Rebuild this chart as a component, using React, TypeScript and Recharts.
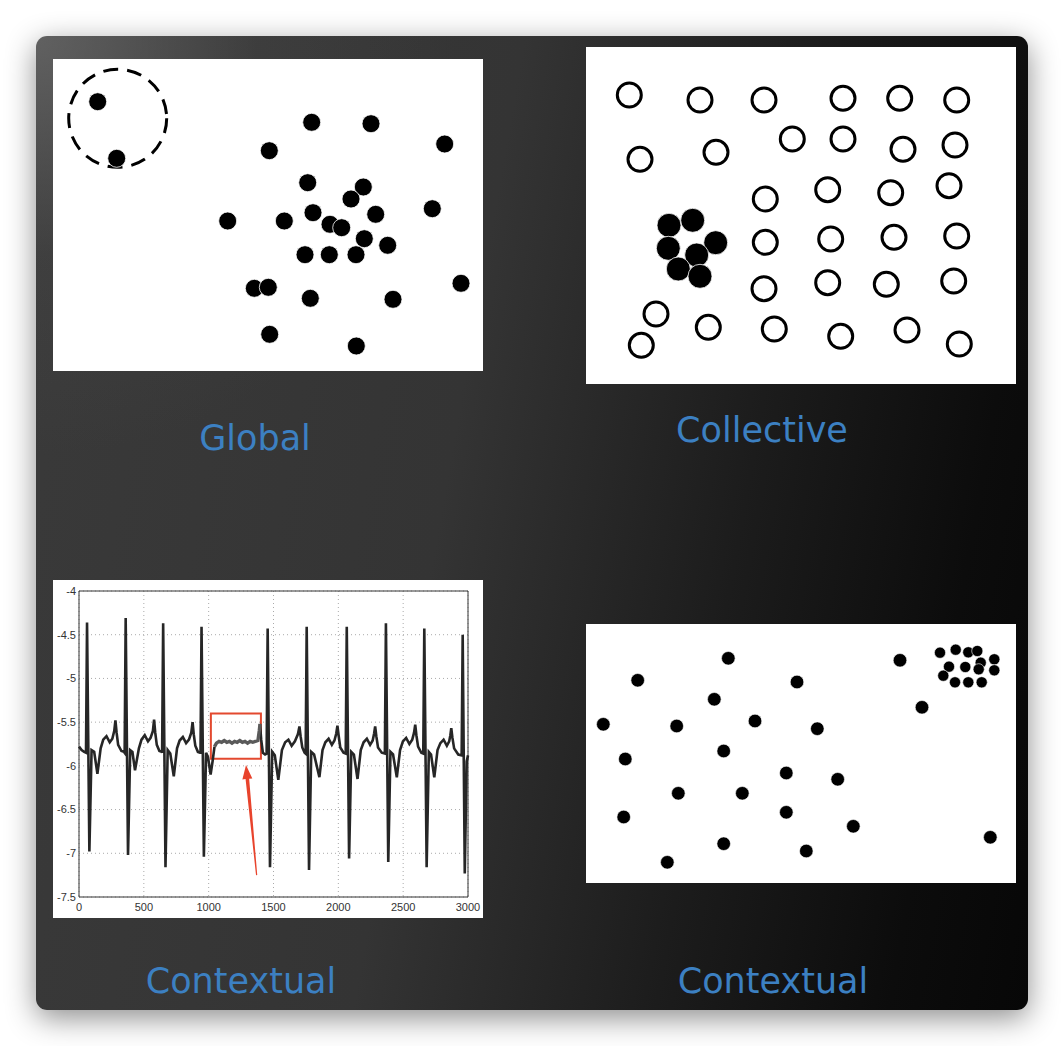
import React from "react";
import {
  ScatterChart,
  Scatter,
  LineChart,
  Line,
  XAxis,
  YAxis,
  CartesianGrid,
  ReferenceArea,
  ReferenceLine,
} from "recharts";

// ---------- Panel 1: Global outliers (panel units, y grows downward) ----------
const globalPoints = [
  [44.7, 42.7], [63.7, 99.3], [258.7, 63.3], [318, 64.7], [391.7, 85], [216.3, 91.7],
  [254.7, 123.7], [310.3, 128], [298, 140], [174.7, 162], [231.3, 162], [260, 153.7],
  [322.7, 155.3], [379.3, 149.7], [277, 165.3], [288.7, 168.7], [311.3, 179.7],
  [334.7, 186.3], [252, 195.7], [276.3, 195.7], [303, 195.7], [201.3, 229.3],
  [215.3, 228.3], [257.3, 239.3], [340, 240.3], [408, 224.3], [216.7, 275.3], [303.3, 287],
];
const globalRing = [[64.7, 59.3]];

// ---------- Panel 2: Collective ----------
const collectiveOpen = [
  [43.3, 48], [114, 53], [178, 53], [257, 51.3], [313.7, 51.3], [370.7, 53],
  [54, 112.3], [130, 105.3], [206.3, 92], [257, 92], [317, 102.3], [369, 98],
  [179.3, 152], [241.7, 142.7], [304.7, 145.7], [363, 138.7],
  [179.3, 195.3], [244.7, 192], [308, 190.3], [370.7, 189],
  [178, 241.7], [241.7, 235.7], [300.3, 237.3], [367.7, 234],
  [70, 267], [122.3, 280.3], [188.3, 282], [254.7, 289.3], [321, 283], [373.3, 297],
  [55.3, 298.3],
];
const collectiveFilled = [
  [83, 178.3], [106.7, 173.3], [82.3, 201.3], [129.7, 195.7], [110.7, 208], [92.3, 222], [114, 229.3],
];

// ---------- Panel 4: Contextual scatter ----------
const contextPoints = [
  [142.3, 34.3], [51.7, 56.3], [211, 58], [128.3, 75.3], [17.3, 100.3], [90.7, 102],
  [169, 97], [231.3, 104.7], [39.3, 135], [137.7, 127], [200.3, 149], [251.7, 155.3],
  [92.3, 169.3], [156.3, 169.3], [37.7, 193], [200.3, 188.3], [267.3, 202.3],
  [137.7, 219.7], [220.3, 227], [81.3, 238.3], [314, 36.3], [336, 83.3], [404.3, 213.3],
];
const contextCluster = [
  [354, 28.7], [369.7, 25.7], [382.3, 28.3], [391.3, 27], [408.3, 35.3], [408.3, 46.3],
  [363, 42.7], [379.3, 43], [394.7, 38.7], [392.7, 45.3], [357.3, 51.7], [369, 58.3],
  [382.3, 58.3], [395.7, 58.3],
];

// ---------- Panel 3: ECG signal ----------
const ecgNormal = [
  [0, -5.78], [20, -5.82], [40, -5.84],
  [54, -5.85], [62, -4.36], [80, -6.98], [97, -5.82], [117, -5.84], [142, -6.09], [167, -5.8],
  [187, -5.7], [212, -5.66], [237, -5.73], [257, -5.69], [272, -5.6], [281, -5.48], [290, -5.62],
  [302, -5.76], [327, -5.83], [347, -5.84],
  [352, -5.85], [360, -4.31], [378, -7.02], [395, -5.82], [412, -5.84], [432, -6.05], [462, -5.8],
  [482, -5.7], [507, -5.65], [532, -5.72], [552, -5.68], [570, -5.6], [579, -5.47], [588, -5.62],
  [600, -5.76], [620, -5.83], [638, -5.84],
  [641, -5.85], [649, -4.37], [667, -7.16], [684, -5.82], [704, -5.86], [731, -6.12], [756, -5.8],
  [776, -5.71], [801, -5.67], [826, -5.74], [848, -5.7], [866, -5.62], [876, -5.5], [885, -5.64],
  [897, -5.77], [917, -5.84], [935, -5.85],
  [937, -5.86], [945, -4.41], [963, -7.04], [980, -5.85], [995, -5.9], [1015, -6.1], [1030, -5.95],
  [1045, -5.78],
  [null, null],
  [1396, -5.52], [1405, -5.7], [1418, -5.85], [1435, -5.87], [1447, -5.86],
  [1455, -4.43], [1473, -7.16], [1490, -5.84], [1510, -5.88], [1537, -6.16], [1565, -5.82],
  [1590, -5.73], [1615, -5.7], [1640, -5.77], [1665, -5.72], [1688, -5.64], [1700, -5.55],
  [1709, -5.66], [1722, -5.79], [1740, -5.85], [1748, -5.86],
  [1756, -4.41], [1774, -7.19], [1791, -5.84], [1813, -5.87], [1854, -6.13], [1878, -5.82],
  [1900, -5.73], [1925, -5.69], [1950, -5.76], [1970, -5.71], [1984, -5.63], [1993, -5.54],
  [2002, -5.65], [2015, -5.79], [2040, -5.85], [2057, -5.86],
  [2065, -4.41], [2083, -7.06], [2100, -5.84], [2120, -5.87], [2148, -6.15], [2173, -5.82],
  [2195, -5.73], [2220, -5.69], [2245, -5.76], [2265, -5.71], [2276, -5.63], [2284, -5.55],
  [2293, -5.66], [2306, -5.79], [2335, -5.85], [2359, -5.86],
  [2367, -4.37], [2385, -7.1], [2402, -5.84], [2422, -5.87], [2451, -6.13], [2476, -5.82],
  [2498, -5.72], [2523, -5.68], [2548, -5.75], [2570, -5.7], [2584, -5.62], [2593, -5.53],
  [2602, -5.65], [2615, -5.78], [2640, -5.85], [2655, -5.86],
  [2663, -4.43], [2681, -7.16], [2698, -5.84], [2715, -5.87], [2740, -6.13], [2765, -5.82],
  [2787, -5.74], [2812, -5.7], [2837, -5.77], [2855, -5.72], [2864, -5.65], [2871, -5.57],
  [2880, -5.68], [2893, -5.8], [2925, -5.87], [2951, -5.88],
  [2959, -4.5], [2975, -7.23], [2990, -5.95], [3000, -5.88],
];
const ecgAnomaly = [
  [1045, -5.78], [1060, -5.74], [1080, -5.72], [1100, -5.73], [1120, -5.71], [1140, -5.73],
  [1160, -5.72], [1180, -5.74], [1200, -5.72], [1220, -5.73], [1240, -5.71], [1260, -5.73],
  [1280, -5.72], [1300, -5.74], [1320, -5.72], [1340, -5.73], [1360, -5.72], [1380, -5.71],
  [1390, -5.6], [1396, -5.52],
];
const ecgXTicks = [0, 500, 1000, 1500, 2000, 2500, 3000];
const ecgYTicks = [-7.5, -7, -6.5, -6, -5.5, -5, -4.5, -4];
const anomalyBox = { x1: 1017, x2: 1403, y1: -5.92, y2: -5.4 };
const arrowSegment = [{ x: 1370, y: -7.25 }, { x: 1288, y: -5.99 }];

const labels = ["Global", "Collective", "Contextual", "Contextual"];

const toXY = (arr) => arr.map(([x, y]) => ({ x, y }));

const circleShape = (r, fill, stroke, sw, dash) => (props) => {
  const { cx, cy } = props;
  if (cx == null || cy == null) return <g />;
  return (
    <circle cx={cx} cy={cy} r={r} fill={fill} stroke={stroke} strokeWidth={sw} strokeDasharray={dash} />
  );
};

function DotPanel({ w, h, series }) {
  return (
    <ScatterChart width={w} height={h} margin={{ top: 0, right: 0, bottom: 0, left: 0 }}>
      <XAxis type="number" dataKey="x" domain={[0, w]} hide />
      <YAxis type="number" dataKey="y" domain={[0, h]} reversed hide />
      {series.map((s, i) => (
        <Scatter key={i} data={toXY(s.data)} shape={s.shape} isAnimationActive={false} />
      ))}
    </ScatterChart>
  );
}

const Arrow = (props) => {
  const { x1, y1, x2, y2 } = props;
  if ([x1, y1, x2, y2].some((v) => v == null || isNaN(v))) return <g />;
  const dx = x2 - x1;
  const dy = y2 - y1;
  const len = Math.sqrt(dx * dx + dy * dy);
  const ux = dx / len;
  const uy = dy / len;
  const nx = -uy;
  const ny = ux;
  const headL = 14;
  const headW = 5;
  const bx = x2 - ux * headL;
  const by = y2 - uy * headL;
  const pts = [
    [x1 + nx * 0.6, y1 + ny * 0.6],
    [bx + nx * 1.8, by + ny * 1.8],
    [bx + nx * headW, by + ny * headW],
    [x2, y2],
    [bx - nx * headW, by - ny * headW],
    [bx - nx * 1.8, by - ny * 1.8],
    [x1 - nx * 0.6, y1 - ny * 0.6],
  ];
  return <polygon points={pts.map((p) => p.join(",")).join(" ")} fill="#e8432c" />;
};

function EcgPanel() {
  const tickStyle = { fontSize: 11, fill: "#333", fontFamily: "Liberation Sans, Arial, sans-serif" };
  return (
    <LineChart width={430} height={338} margin={{ top: 11, right: 15, bottom: 0, left: 0 }}>
      <CartesianGrid stroke="#aaa" strokeDasharray="1 3" />
      <XAxis
        type="number"
        dataKey="x"
        domain={[0, 3000]}
        ticks={ecgXTicks}
        height={21}
        tickLine={false}
        axisLine={false}
        tickSize={0}
        tickMargin={6}
        tick={tickStyle}
        interval={0}
      />
      <YAxis
        type="number"
        domain={[-7.5, -4]}
        ticks={ecgYTicks}
        width={26}
        tickLine={false}
        axisLine={false}
        tickSize={0}
        tickMargin={3}
        tick={tickStyle}
        interval={0}
      />
      <ReferenceArea x1={0} x2={3000} y1={-7.5} y2={-4} fill="none" stroke="#333" strokeWidth={1} />
      <Line
        data={toXY(ecgNormal)}
        dataKey="y"
        stroke="#262626"
        strokeWidth={2.6}
        dot={false}
        connectNulls={false}
        isAnimationActive={false}
      />
      <Line
        data={toXY(ecgAnomaly)}
        dataKey="y"
        stroke="#5a5a5a"
        strokeWidth={3.4}
        dot={false}
        isAnimationActive={false}
      />
      <ReferenceArea
        x1={anomalyBox.x1}
        x2={anomalyBox.x2}
        y1={anomalyBox.y1}
        y2={anomalyBox.y2}
        fill="none"
        stroke="#e3492f"
        strokeWidth={2}
      />
      <ReferenceLine segment={arrowSegment} shape={Arrow} />
    </LineChart>
  );
}

const labelStyle = (cx, cy) => ({
  position: "absolute",
  left: cx - 200,
  top: cy - 17,
  width: 400,
  height: 35,
  lineHeight: "35px",
  textAlign: "center",
  fontFamily: "DejaVu Sans, sans-serif",
  fontSize: 35,
  color: "#3c80c2",
});

export default function App() {
  return (
    <div
      style={{
        position: "absolute",
        left: 0,
        top: 0,
        width: 1064,
        height: 1046,
        background: "#ffffff",
        overflow: "hidden",
      }}
    >
      <div
        style={{
          position: "absolute",
          left: 36,
          top: 36,
          width: 992,
          height: 974,
          borderRadius: 11,
          background:
            "radial-gradient(circle at 0px 0px, rgba(110,110,110,0.75) 0px, rgba(80,80,80,0.25) 220px, rgba(60,60,60,0) 420px), linear-gradient(100deg, #3a3a3a 0%, #343434 42%, #1c1c1c 68%, #0c0c0c 88%, #070707 100%)",
          boxShadow: "0 8px 30px rgba(0,0,0,0.45)",
        }}
      />
      <div style={{ position: "absolute", left: 53, top: 59, width: 430, height: 312, background: "#fff" }}>
        <DotPanel
          w={430}
          h={312}
          series={[
            { data: globalRing, shape: circleShape(49, "none", "#000", 3, "15 9") },
            { data: globalPoints, shape: circleShape(9, "#000", "#fff", 0.8) },
          ]}
        />
      </div>
      <div style={{ position: "absolute", left: 586, top: 47, width: 430, height: 337, background: "#fff" }}>
        <DotPanel
          w={430}
          h={337}
          series={[
            { data: collectiveOpen, shape: circleShape(12, "#fff", "#000", 3) },
            { data: collectiveFilled, shape: circleShape(12, "#000", "#fff", 0.8) },
          ]}
        />
      </div>
      <div style={{ position: "absolute", left: 53, top: 580, width: 430, height: 338, background: "#fff" }}>
        <EcgPanel />
      </div>
      <div style={{ position: "absolute", left: 586, top: 624, width: 430, height: 259, background: "#fff" }}>
        <DotPanel
          w={430}
          h={259}
          series={[
            { data: contextPoints, shape: circleShape(6.8, "#000", "#fff", 0.6) },
            { data: contextCluster, shape: circleShape(5.6, "#000", "#fff", 0.6) },
          ]}
        />
      </div>
      <div style={labelStyle(255, 438)}>{labels[0]}</div>
      <div style={labelStyle(762, 430)}>{labels[1]}</div>
      <div style={labelStyle(241, 981)}>{labels[2]}</div>
      <div style={labelStyle(773, 981)}>{labels[3]}</div>
    </div>
  );
}
